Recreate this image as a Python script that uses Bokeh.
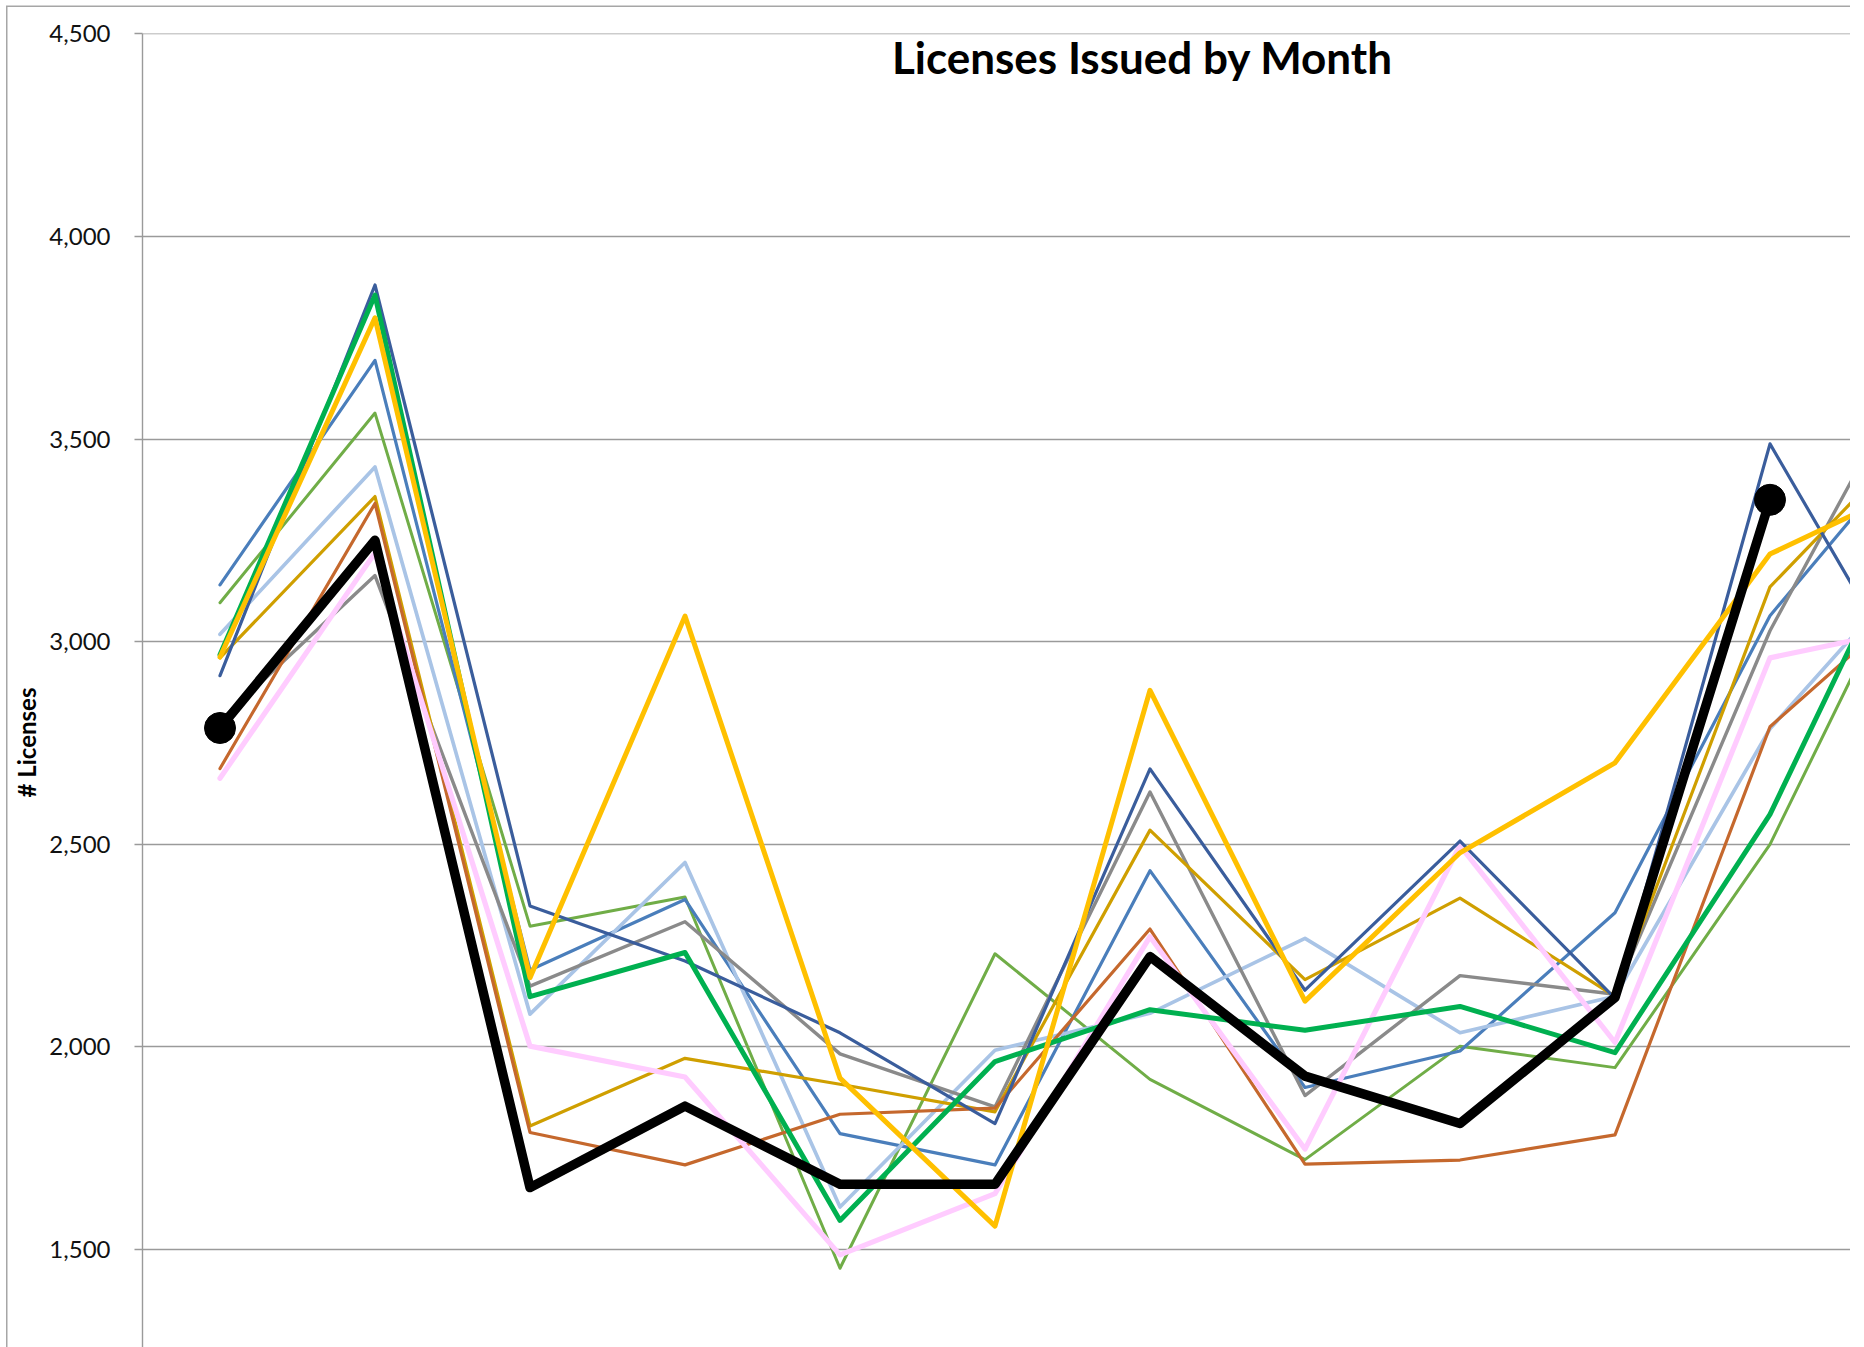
from bokeh.plotting import figure
from bokeh.models import Range1d, Label, Title, FixedTicker, NumeralTickFormatter
from bokeh.embed import file_html
from bokeh.resources import INLINE

# ---- data -------------------------------------------------------------
months = ["Jan", "Feb", "Mar", "Apr", "May", "Jun",
          "Jul", "Aug", "Sep", "Oct", "Nov", "Dec"]
y_ticks = [1500, 2000, 2500, 3000, 3500, 4000, 4500]

olive      = [3096, 3564, 2298, 2370, 1454, 2230, 1920, 1722, 2002, 1949, 2500, 3282]
steel_blue = [3140, 3694, 2190, 2364, 1786, 1709, 2435, 1900, 1990, 2331, 3064, 3519]
light_blue = [3018, 3431, 2081, 2455, 1605, 1992, 2083, 2268, 2035, 2125, 2785, 3213]
gray       = [2805, 3163, 2150, 2309, 1983, 1852, 2629, 1880, 2176, 2130, 3027, 3731]
dark_gold  = [2960, 3358, 1805, 1972, 1908, 1840, 2535, 2166, 2367, 2125, 3135, 3532]
orange     = [2687, 3341, 1789, 1709, 1834, 1849, 2291, 1711, 1721, 1783, 2790, 3129]
pink       = [2663, 3219, 2002, 1926, 1487, 1638, 2272, 1748, 2497, 2011, 2960, 3040]
dark_blue  = [2916, 3880, 2348, 2212, 2035, 1811, 2686, 2140, 2508, 2120, 3488, 2830]
green      = [2968, 3855, 2124, 2233, 1572, 1964, 2092, 2041, 2100, 1986, 2574, 3371]
yellow     = [2962, 3799, 2171, 3063, 1923, 1558, 2880, 2113, 2479, 2701, 3216, 3397]
current    = [2787, 3250, 1653, 1854, 1661, 1661, 2223, 1928, 1811, 2122, 3350]

series = [
    (olive,      "#70AD47", 3.0),
    (steel_blue, "#4A7EBB", 3.2),
    (light_blue, "#A9C4E6", 3.7),
    (gray,       "#8A8A8A", 3.4),
    (dark_gold,  "#CF9F00", 3.2),
    (orange,     "#C5682D", 3.2),
    (pink,       "#FFCCFF", 5.2),
    (dark_blue,  "#3A5D9C", 3.2),
    (green,      "#00B050", 5.0),
    (yellow,     "#FFC000", 5.0),
]

# category positions (centre of each month slot)
xpos = [i + 0.5 for i in range(len(months))]

# ---- figure -----------------------------------------------------------
W, H = 1850, 1347
left, top = 142, 33
PX_PER_UNIT = 0.4053
p = figure(width=W, height=H, output_backend="svg", toolbar_location=None,
           x_axis_location=None,
           x_range=Range1d(0, (W - left) / 155.0),
           y_range=Range1d(4500.5 - (H - top) / PX_PER_UNIT, 4500.5))
p.min_border_left = left
p.min_border_top = top
p.min_border_right = 0
p.min_border_bottom = 0
p.outline_line_color = None
p.background_fill_color = "white"
p.border_fill_color = None
p.styles = {"box-shadow": "inset 6px 5.5px 0 0 #FFFFFF, inset 7.5px 7px 0 0 #A6A6A6"}

p.xgrid.visible = False
p.ygrid.ticker = FixedTicker(ticks=y_ticks)
p.ygrid.grid_line_color = "#9A9A9A"
p.ygrid.grid_line_width = 1.4

ax = p.yaxis[0]
ax.ticker = FixedTicker(ticks=y_ticks)
ax.formatter = NumeralTickFormatter(format="0,0")
ax.axis_line_color = "#9A9A9A"
ax.axis_line_width = 1.4
ax.major_tick_line_color = "#9A9A9A"
ax.major_tick_line_width = 1.4
ax.major_tick_out = 8
ax.major_tick_in = 0
ax.minor_tick_line_color = None
ax.major_label_standoff = 24
ax.major_label_text_font = "Lato"
ax.major_label_text_font_size = "24px"
ax.major_label_text_color = "#111111"

for vals, col, lw in series:
    p.line(xpos[:len(vals)], vals, line_color=col, line_width=lw,
           line_join="round", line_cap="round")

p.line(xpos[:len(current)], current, line_color="black", line_width=9.5,
       line_join="round", line_cap="round")
p.scatter([xpos[0], xpos[len(current) - 1]], [current[0], current[-1]],
          size=31, marker="circle", fill_color="black", line_color="black")

# chart title (sits inside the plot area, as in the original)
p.add_layout(Label(x=(1142 - left) / 155.0, y=4500 - (56 - 33) / PX_PER_UNIT,
                   text="Licenses Issued by Month",
                   text_font="Lato", text_font_style="bold",
                   text_font_size="44px", text_color="black",
                   text_align="center", text_baseline="alphabetic"))

# y axis title, placed in a side panel left of the axis
p.add_layout(Title(text="# Licenses", align="left", offset=H - 797,
                   vertical_align="middle", standoff=10,
                   text_font="Lato", text_font_style="bold",
                   text_font_size="24px", text_color="black"), "left")

open("out.html", "w").write(file_html(p, INLINE))
